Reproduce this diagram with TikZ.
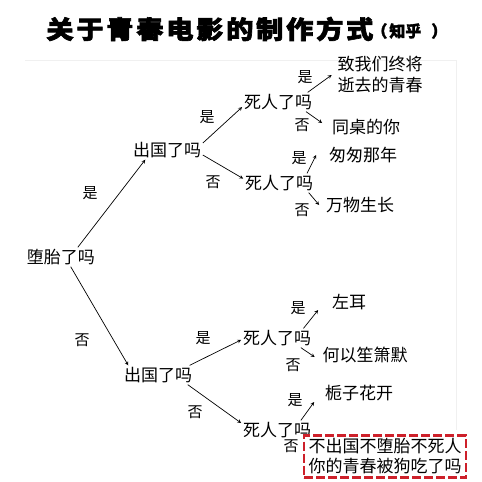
\documentclass[tikz,border=0pt]{standalone}
\usepackage{fontspec}
\newfontfamily\cjk{Noto Sans CJK SC}
\newfontfamily\cjktitle[LetterSpace=10,BoldFeatures={FakeBold=2.5,LetterSpace=10}]{Noto Sans CJK SC}
\newfontfamily\cjknote[BoldFeatures={FakeBold=2}]{Noto Sans CJK SC}
\definecolor{boxred}{RGB}{205,32,42}
\tikzset{
  q/.style={inner sep=1.5pt, font=\cjk\fontsize{17}{21}\selectfont},
  yn/.style={inner sep=0pt, font=\cjk\fontsize{15}{15}\selectfont},
  film/.style={inner sep=1.5pt, font=\cjk\fontsize{17}{21}\selectfont, align=left},
  endbox/.style={draw=boxred, line width=2.5pt, dash pattern=on 9pt off 3pt,
    minimum width=162pt, minimum height=42pt, inner sep=0pt, align=center,
    font=\cjk\fontsize{17}{20}\selectfont}
}
\begin{document}
\begin{tikzpicture}[x=1pt,y=-1pt,line width=0.7pt,>=stealth]
        \useasboundingbox (0,0) rectangle (482,482);
        \draw[gray!12] (25,60) -- (456,60) -- (456,430);

        \node[anchor=west, inner sep=0pt] (title) at (46,29) {\cjktitle\bfseries\fontsize{25}{25}\selectfont\scalebox{1.09}[1]{关于青春电影的制作方式}};
        \node[anchor=west, inner sep=0pt] (titlenote) at (371,31) {\cjknote\bfseries\fontsize{16}{16}\selectfont （\hspace{2pt}知乎\hspace{10pt}）};

        \node[q] (dt) at (61,257) {堕胎了吗};
        \node[q] (cg1) at (167,150) {出国了吗};
        \node[q] (cg2) at (158,375) {出国了吗};
        \node[q] (sr1) at (278,102) {死人了吗};
        \node[q] (sr2) at (279,183) {死人了吗};
        \node[q] (sr3) at (277,338) {死人了吗};
        \node[q] (sr4) at (277,430) {死人了吗};

        \node[film] (m1) at (380,75) {致我们终将\\逝去的青春};
        \node[film] (m2) at (366,127) {同桌的你};
        \node[film] (m3) at (363,155) {匆匆那年};
        \node[film] (m4) at (360,205) {万物生长};
        \node[film] (m5) at (349,302) {左耳};
        \node[film] (m6) at (365,355) {何以笙箫默};
        \node[film] (m7) at (359,393) {栀子花开};

        \node[yn] (l1) at (90,193) {是};
        \node[yn] (l2) at (82,340) {否};
        \node[yn] (l3) at (207,117) {是};
        \node[yn] (l4) at (213,182) {否};
        \node[yn] (l5) at (305,77) {是};
        \node[yn] (l6) at (302,125) {否};
        \node[yn] (l7) at (299,158) {是};
        \node[yn] (l8) at (302,210) {否};
        \node[yn] (l9) at (203,338) {是};
        \node[yn] (l10) at (195,412) {否};
        \node[yn] (l11) at (298,308) {是};
        \node[yn] (l12) at (293,365) {否};
        \node[yn] (l13) at (295,400) {是};
        \node[yn] (l14) at (291,446) {否};

        \node[endbox, fill=white] (last) at (385,456.5) {不出国不堕胎不死人\\你的青春被狗吃了吗};

        \path [->] (dt.30) edge (cg1.204);
        \path [->] (dt.-45) edge (cg2.162);
        \path [->] (cg1.11) edge (sr1.188);
        \path [->] (cg1.-8) edge (sr2.173);
        \path [->] (cg2.17) edge (sr3.183);
        \path [->] (cg2.-18) edge (sr4.169);
        \path [->] (sr1.18) edge ([xshift=-4]m1.west);
        \path [->] (sr1.-19) edge ([xshift=-8,yshift=4]m2.west);
        \path [->] (sr2.19) edge ([xshift=-11]m3.west);
        \path [->] (sr2.-18) edge ([xshift=-5]m4.west);
        \path [->] (sr3.20) edge ([xshift=-12,yshift=-8]m5.west);
        \path [->] (sr3.-22) edge ([xshift=-6,yshift=-2]m6.west);
        \path [->] (sr4.22) edge ([xshift=-9,yshift=-9]m7.west);
\end{tikzpicture}
\end{document}
